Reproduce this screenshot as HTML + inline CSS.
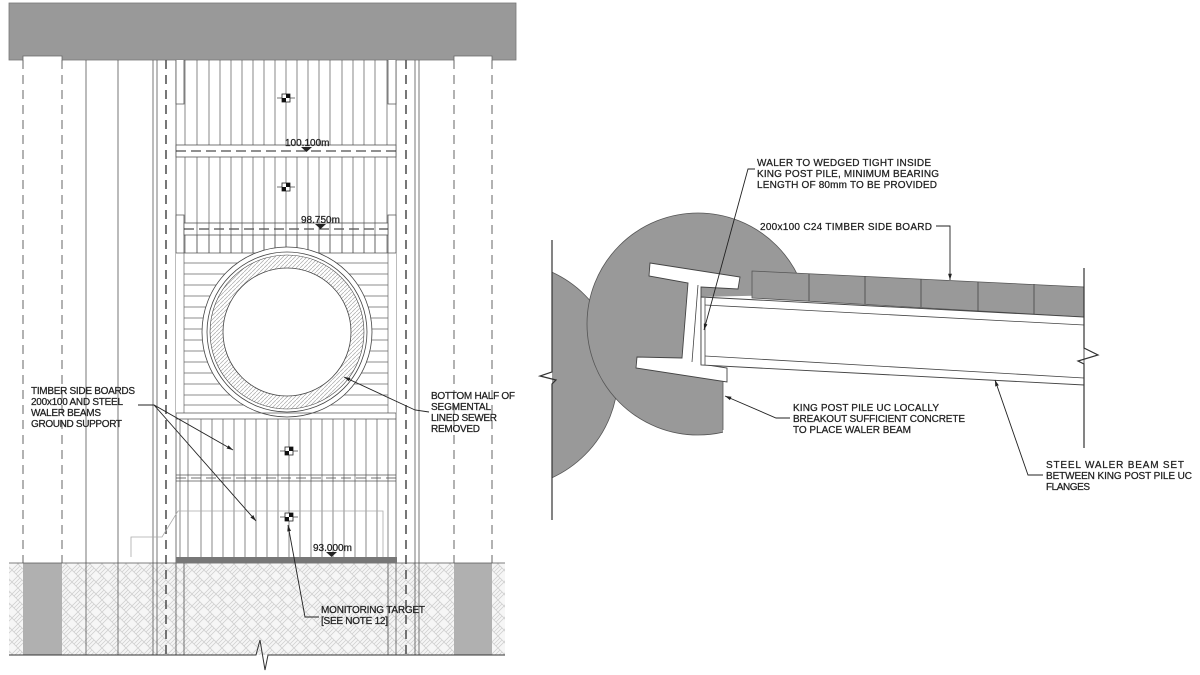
<!DOCTYPE html>
<html><head><meta charset="utf-8"><style>
html,body{margin:0;padding:0;background:#fff}
svg{display:block}
text{font-family:"Liberation Sans",Arial,sans-serif;font-size:10px;fill:#222;stroke:#222;stroke-width:0.25}
</style></head><body>
<svg width="1200" height="675" viewBox="0 0 1200 675" xmlns="http://www.w3.org/2000/svg">
<defs>
<pattern id="bw" width="12" height="12" patternUnits="userSpaceOnUse">
<rect width="12" height="12" fill="#f6f6f6"/>
<path d="M0 6 L6 0 M2 8 L8 2 M4 10 L10 4 M6 12 L12 6 M6 0 L12 6 M0 6 L6 12" stroke="#cfcfcf" stroke-width="0.8" fill="none"/>
</pattern>
<pattern id="hx" width="4" height="4" patternUnits="userSpaceOnUse">
<rect width="4" height="4" fill="#fff"/>
<path d="M0 4 L4 0" stroke="#aaa" stroke-width="0.7"/>
</pattern>
<marker id="ar" viewBox="0 0 10 10" refX="10" refY="5" markerWidth="7" markerHeight="7" orient="auto-start-reverse">
<path d="M0 2 L10 5 L0 8 z" fill="#222"/>
</marker>
<clipPath id="cr"><rect x="552" y="0" width="200" height="675"/></clipPath>
<clipPath id="cd"><polygon points="560,200 900,200 900,292 701,297 701,370 723,378 723,445 560,445"/></clipPath>
<g id="t">
<line x1="-9" y1="0" x2="9" y2="0" stroke="#444" stroke-width="0.8"/>
<rect x="-4" y="-4" width="8" height="8" fill="#fff" stroke="#222" stroke-width="0.8"/>
<rect x="0" y="-4" width="4" height="4" fill="#111"/>
<rect x="-4" y="0" width="4" height="4" fill="#111"/>
</g>
</defs>

<!-- ===== LEFT DRAWING ===== -->
<rect x="9" y="563" width="496" height="92" fill="url(#bw)"/>
<rect x="23" y="563" width="39" height="92" fill="#b0b0b0"/>
<rect x="454" y="563" width="38" height="92" fill="#b0b0b0"/>
<line x1="9" y1="563" x2="505" y2="563" stroke="#555" stroke-width="0.8"/>

<rect x="9" y="3" width="507" height="57" fill="#999" stroke="#777" stroke-width="0.8"/>
<rect x="23" y="56" width="39" height="6" fill="#fff"/>
<rect x="454" y="56" width="38" height="6" fill="#fff"/>
<path d="M23 60 V56 H62 V60 M454 60 V56 H492 V60" stroke="#666" fill="none" stroke-width="0.8"/>

<g stroke="#555" stroke-width="0.9" stroke-dasharray="9,6" fill="none">
<line x1="23" y1="60" x2="23" y2="563"/><line x1="62" y1="60" x2="62" y2="563"/>
<line x1="454" y1="60" x2="454" y2="563"/><line x1="492" y1="60" x2="492" y2="563"/>
<line x1="166" y1="60" x2="166" y2="655" stroke-width="1.6"/>
<line x1="406" y1="60" x2="406" y2="655" stroke-width="1.6"/>
</g>
<g stroke="#555" stroke-width="0.8">
<line x1="86" y1="60" x2="86" y2="655"/><line x1="118" y1="60" x2="118" y2="655"/>
<line x1="153" y1="60" x2="153" y2="655"/><line x1="157" y1="60" x2="157" y2="655"/>
<line x1="176" y1="60" x2="176" y2="655"/>
<line x1="396" y1="60" x2="396" y2="655"/>
<line x1="415" y1="60" x2="415" y2="655"/><line x1="419" y1="60" x2="419" y2="655"/>
<line x1="184" y1="563" x2="184" y2="655"/><line x1="388" y1="563" x2="388" y2="655"/>
</g>

<g stroke="#555" stroke-width="0.7">
<line x1="185" y1="60" x2="185" y2="253"/><line x1="197" y1="60" x2="197" y2="253"/>
<line x1="209" y1="60" x2="209" y2="253"/><line x1="220" y1="60" x2="220" y2="253"/>
<line x1="231" y1="60" x2="231" y2="253"/><line x1="242" y1="60" x2="242" y2="253"/>
<line x1="253" y1="60" x2="253" y2="253"/><line x1="264" y1="60" x2="264" y2="253"/>
<line x1="275" y1="60" x2="275" y2="253"/><line x1="286" y1="60" x2="286" y2="253"/>
<line x1="297" y1="60" x2="297" y2="253"/><line x1="308" y1="60" x2="308" y2="253"/>
<line x1="319" y1="60" x2="319" y2="253"/><line x1="330" y1="60" x2="330" y2="253"/>
<line x1="342" y1="60" x2="342" y2="253"/><line x1="353" y1="60" x2="353" y2="253"/>
<line x1="364" y1="60" x2="364" y2="253"/><line x1="375" y1="60" x2="375" y2="253"/>
<line x1="387" y1="60" x2="387" y2="253"/>
</g>
<path d="M176 60 V104 H184 V60 M388 60 V104 H396 V60" stroke="#555" fill="#fff" stroke-width="0.8"/>
<rect x="176" y="145" width="220" height="12" fill="#fff" stroke="#555" stroke-width="0.8"/>
<line x1="176" y1="151" x2="396" y2="151" stroke="#222" stroke-width="1" stroke-dasharray="10,5"/>
<path d="M176 253 V215 H184 V253 M388 253 V215 H396 V253" stroke="#555" fill="#fff" stroke-width="0.8"/>
<rect x="184" y="223" width="204" height="12" fill="#fff" stroke="#555" stroke-width="0.8"/>
<line x1="184" y1="229" x2="388" y2="229" stroke="#222" stroke-width="1" stroke-dasharray="10,5"/>
<g stroke="#555" stroke-width="0.7">
<line x1="197" y1="223" x2="197" y2="253"/><line x1="209" y1="223" x2="209" y2="253"/><line x1="220" y1="223" x2="220" y2="253"/><line x1="231" y1="223" x2="231" y2="253"/><line x1="242" y1="223" x2="242" y2="253"/><line x1="253" y1="223" x2="253" y2="253"/><line x1="264" y1="223" x2="264" y2="253"/><line x1="275" y1="223" x2="275" y2="253"/><line x1="286" y1="223" x2="286" y2="253"/><line x1="297" y1="223" x2="297" y2="253"/><line x1="308" y1="223" x2="308" y2="253"/><line x1="319" y1="223" x2="319" y2="253"/><line x1="330" y1="223" x2="330" y2="253"/><line x1="342" y1="223" x2="342" y2="253"/><line x1="353" y1="223" x2="353" y2="253"/><line x1="364" y1="223" x2="364" y2="253"/><line x1="375" y1="223" x2="375" y2="253"/>
</g>

<rect x="176" y="253" width="220" height="160" fill="#fff" stroke="none"/>
<line x1="176" y1="253" x2="396" y2="253" stroke="#555" stroke-width="0.8"/>
<g stroke="#666" stroke-width="0.7">
<line x1="184" y1="253" x2="184" y2="413"/><line x1="388" y1="253" x2="388" y2="413"/>
<line x1="184" y1="263" x2="388" y2="263"/><line x1="184" y1="274" x2="388" y2="274"/>
<line x1="184" y1="285" x2="388" y2="285"/><line x1="184" y1="296" x2="388" y2="296"/>
<line x1="184" y1="307" x2="388" y2="307"/><line x1="184" y1="318" x2="388" y2="318"/>
<line x1="184" y1="329" x2="388" y2="329"/><line x1="184" y1="340" x2="388" y2="340"/>
<line x1="184" y1="351" x2="388" y2="351"/><line x1="184" y1="362" x2="388" y2="362"/>
<line x1="184" y1="373" x2="388" y2="373"/><line x1="184" y1="384" x2="388" y2="384"/>
<line x1="184" y1="395" x2="388" y2="395"/><line x1="184" y1="405" x2="388" y2="405"/>
</g>
<circle cx="287" cy="332" r="85" fill="#fff" stroke="#444" stroke-width="0.8"/>
<circle cx="287" cy="332" r="80" fill="#fff" stroke="#444" stroke-width="0.8"/>
<circle cx="287" cy="332" r="77" fill="url(#hx)" stroke="#444" stroke-width="0.6"/>
<circle cx="287" cy="332" r="64" fill="#fff" stroke="#444" stroke-width="0.8"/>
<line x1="176" y1="413" x2="396" y2="413" stroke="#555" stroke-width="0.8"/>
<line x1="176" y1="419" x2="396" y2="419" stroke="#555" stroke-width="0.8"/>

<g stroke="#555" stroke-width="0.7">
<line x1="180" y1="419" x2="180" y2="557"/><line x1="188" y1="419" x2="188" y2="557"/>
<line x1="201" y1="419" x2="201" y2="557"/><line x1="212" y1="419" x2="212" y2="557"/>
<line x1="223" y1="419" x2="223" y2="557"/><line x1="234" y1="419" x2="234" y2="557"/>
<line x1="245" y1="419" x2="245" y2="557"/><line x1="256" y1="419" x2="256" y2="557"/>
<line x1="267" y1="419" x2="267" y2="557"/><line x1="278" y1="419" x2="278" y2="557"/>
<line x1="289" y1="419" x2="289" y2="557"/><line x1="300" y1="419" x2="300" y2="557"/>
<line x1="311" y1="419" x2="311" y2="557"/><line x1="322" y1="419" x2="322" y2="557"/>
<line x1="333" y1="419" x2="333" y2="557"/><line x1="344" y1="419" x2="344" y2="557"/>
<line x1="355" y1="419" x2="355" y2="557"/><line x1="366" y1="419" x2="366" y2="557"/>
<line x1="377" y1="419" x2="377" y2="557"/><line x1="388" y1="419" x2="388" y2="557"/>
</g>
<line x1="176" y1="475" x2="396" y2="475" stroke="#555" stroke-width="0.8"/>
<line x1="176" y1="481" x2="396" y2="481" stroke="#555" stroke-width="0.8"/>
<line x1="176" y1="478" x2="396" y2="478" stroke="#444" stroke-width="0.8" stroke-dasharray="10,5"/>
<rect x="176" y="557" width="221" height="6" fill="#777"/>
<polyline points="131,557 131,537 162,537 178,511 383,511 383,557" fill="none" stroke="#aaa" stroke-width="0.8"/>

<polyline points="9,655 256,655 260,640 265,670 268,655 505,655" fill="none" stroke="#333" stroke-width="1"/>

<use href="#t" x="286" y="98"/>
<use href="#t" x="286" y="187"/>
<use href="#t" x="289" y="451"/>
<use href="#t" x="289" y="517"/>

<text x="285" y="146">100.100m</text>
<path d="M301 147 H312 L306.5 152 z" fill="#222"/>
<text x="301" y="223">98.750m</text>
<path d="M315 224 H326 L320.5 229 z" fill="#222"/>
<text x="313" y="551">93.000m</text>
<path d="M326 552 H337 L331.5 557 z" fill="#222"/>

<text x="31" y="394" textLength="104">TIMBER SIDE BOARDS</text>
<text x="31" y="405" textLength="92">200x100 AND STEEL</text>
<text x="31" y="416" textLength="70">WALER BEAMS</text>
<text x="31" y="427" textLength="91">GROUND SUPPORT</text>
<polyline points="138,405 154,405 233,450" fill="none" stroke="#222" stroke-width="0.9" marker-end="url(#ar)"/>
<line x1="154" y1="405" x2="256" y2="521" stroke="#222" stroke-width="0.9" marker-end="url(#ar)"/>

<text x="431" y="399" textLength="84">BOTTOM HALF OF</text>
<text x="431" y="410" textLength="60">SEGMENTAL</text>
<text x="431" y="421" textLength="66">LINED SEWER</text>
<text x="431" y="432" textLength="49">REMOVED</text>
<polyline points="429,412 415,410 344,377" fill="none" stroke="#222" stroke-width="0.9" marker-end="url(#ar)"/>

<text x="321" y="613" textLength="104">MONITORING TARGET</text>
<text x="321" y="624" textLength="67">[SEE NOTE 12]</text>
<polyline points="319,617 305,617 288,525" fill="none" stroke="#222" stroke-width="0.9" marker-end="url(#ar)"/>

<!-- ===== RIGHT DRAWING ===== -->
<circle cx="505" cy="375" r="113" fill="#999" stroke="#555" stroke-width="0.8" clip-path="url(#cr)"/>
<circle cx="698" cy="324" r="111" fill="#999" stroke="#555" stroke-width="0.8" clip-path="url(#cd)"/>
<line x1="723" y1="378" x2="723" y2="430" stroke="#555" stroke-width="0.8"/>
<polyline points="552,240 552,372 540,376 556,380 552,384 552,520" fill="none" stroke="#333" stroke-width="1.2"/>

<!-- I-beam -->
<polygon points="650,263 740,277 738,289 701,287 701,364 727,368 727,382 636,368 637,357 682,358 688,283 649,276" fill="#fff" stroke="#444" stroke-width="0.9"/>
<line x1="698" y1="285" x2="692" y2="362" stroke="#444" stroke-width="0.8"/>

<polygon points="752,271 1084,287 1084,317 752,298" fill="#999" stroke="#555" stroke-width="0.8"/>
<g stroke="#444" stroke-width="0.8">
<line x1="809" y1="274" x2="809" y2="301"/><line x1="865" y1="276" x2="865" y2="304"/>
<line x1="921" y1="279" x2="921" y2="307"/><line x1="978" y1="282" x2="978" y2="311"/>
<line x1="1034" y1="284" x2="1034" y2="314"/>
</g>
<polygon points="701,297 1084,317 1084,385 701,365" fill="#fff" stroke="#444" stroke-width="0.9"/>
<line x1="705" y1="305" x2="1084" y2="325" stroke="#444" stroke-width="0.8"/>
<line x1="705" y1="356" x2="1084" y2="378" stroke="#444" stroke-width="0.8"/>
<line x1="705" y1="298" x2="705" y2="365" stroke="#444" stroke-width="0.8"/>
<polyline points="1084,268 1084,348 1098,355 1078,361 1084,364 1084,448" fill="none" stroke="#333" stroke-width="1.2"/>

<text x="757" y="166" textLength="174">WALER TO WEDGED TIGHT INSIDE</text>
<text x="757" y="177" textLength="182">KING POST PILE, MINIMUM BEARING</text>
<text x="757" y="188" textLength="180">LENGTH OF 80mm TO BE PROVIDED</text>
<polyline points="755,169 748,169 704,330" fill="none" stroke="#222" stroke-width="0.9" marker-end="url(#ar)"/>

<text x="760" y="230" textLength="172">200x100 C24 TIMBER SIDE BOARD</text>
<polyline points="936,226 950,226 950,280" fill="none" stroke="#222" stroke-width="0.9" marker-end="url(#ar)"/>

<text x="793" y="411" textLength="146">KING POST PILE UC LOCALLY</text>
<text x="793" y="422" textLength="172">BREAKOUT SUFFICIENT CONCRETE</text>
<text x="793" y="433" textLength="118">TO PLACE WALER BEAM</text>
<polyline points="790,418 776,418 725,396" fill="none" stroke="#222" stroke-width="0.9" marker-end="url(#ar)"/>

<text x="1046" y="468" textLength="138">STEEL WALER BEAM SET</text>
<text x="1046" y="479" textLength="146">BETWEEN KING POST PILE UC</text>
<text x="1046" y="490" textLength="44">FLANGES</text>
<polyline points="1043,475 1028,475 995,380" fill="none" stroke="#222" stroke-width="0.9" marker-end="url(#ar)"/>
</svg>
</body></html>
